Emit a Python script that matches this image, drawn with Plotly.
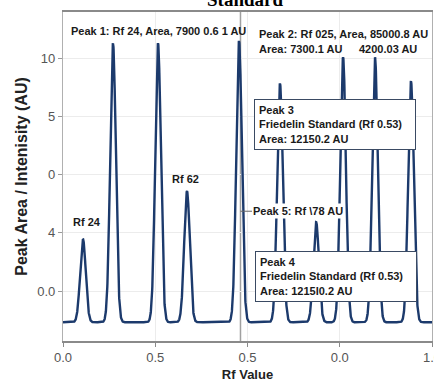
import numpy as np
import plotly.graph_objects as go

# ---- data ----
peak_rf = [0.054, 0.1355, 0.2575, 0.336, 0.477, 0.588, 0.686, 0.759, 0.8455, 0.943]
peak_height = [1.43, 4.79, 4.79, 2.25, 4.83, 4.10, 1.72, 4.55, 4.55, 4.14]
baseline = -0.537
peak_width = 0.0076

x_tickvals = [0.0, 0.25, 0.5, 0.75, 1.0]
x_ticktext = ["0.0", "0.5", "0.5", "0.0", "1.0"]
y_tickvals = [0, 1, 2, 3, 4]
y_ticktext = ["0.0", "4", "0", "5", "10"]
marker_rf = 0.481

# ---- curve from peaks ----
x = np.linspace(0, 1, 3000)
y = np.full_like(x, baseline)
for c, h in zip(peak_rf, peak_height):
    y = y + h * np.exp(-0.5 * ((x - c) / peak_width) ** 2)

fig = go.Figure()
fig.add_trace(go.Scatter(x=x, y=y, mode="lines",
                         line=dict(color="#1c3a6c", width=2.4),
                         hoverinfo="skip", showlegend=False))

fig.add_shape(type="line", xref="x", yref="paper", x0=marker_rf, x1=marker_rf,
              y0=0, y1=1, line=dict(color="#a0a0a0", width=1.5), layer="below")

bold = dict(family="Liberation Sans, Arial", size=11, color="#1a1a1a")

ann = []
ann.append(dict(x=0.015, y=4.46, xref="x", yref="y", xanchor="left", yanchor="middle",
                text="<b>Peak 1: Rf 24, Area, 7900 0.6 1 AU</b>", showarrow=False, font=bold))
ann.append(dict(x=0.526, y=4.41, xref="x", yref="y", xanchor="left", yanchor="middle",
                text="<b>Peak 2: Rf 025, Area, 85000.8 AU</b>", showarrow=False, font=bold))
ann.append(dict(x=0.526, y=4.15, xref="x", yref="y", xanchor="left", yanchor="middle",
                text="<b>Area: 7300.1 AU</b>", showarrow=False, font=bold))
ann.append(dict(x=0.796, y=4.15, xref="x", yref="y", xanchor="left", yanchor="middle",
                text="<b>4200.03 AU</b>", showarrow=False, font=bold))
ann.append(dict(x=0.064, y=1.18, xref="x", yref="y", xanchor="center", yanchor="middle",
                text="<b>Rf 24</b>", showarrow=False, font=bold))
ann.append(dict(x=0.333, y=1.93, xref="x", yref="y", xanchor="center", yanchor="middle",
                text="<b>Rf 62</b>", showarrow=False, font=bold))
ann.append(dict(x=0.518, y=2.86, xref="x", yref="y", xanchor="left", yanchor="middle",
                text="<b>Peak 3</b><br><b>Friedelin Standard (Rf 0.53)</b>   <br><b>Area: 12150.2 AU</b>",
                align="left", showarrow=False, font=bold, bgcolor="white",
                bordercolor="#3a4a63", borderwidth=1, borderpad=4))
ann.append(dict(x=0.521, y=0.25, xref="x", yref="y", xanchor="left", yanchor="middle",
                text="<b>Peak 4</b><br><b>Friedelin Standard (Rf 0.53)</b>   <br><b>Area: 1215l0.2 AU</b>",
                align="left", showarrow=False, font=bold, bgcolor="white",
                bordercolor="#3a4a63", borderwidth=1, borderpad=4))
ann.append(dict(x=marker_rf, y=1.37, xref="x", yref="y", ax=58, ay=0,
                text="<b>Peak 5: Rf \\78 AU</b>", showarrow=True, arrowhead=0,
                arrowwidth=1, arrowcolor="#666666", font=bold, bgcolor="white"))
ann.append(dict(x=0.494, y=1.0, xref="paper", yref="paper", xanchor="center", yanchor="middle",
                yshift=13, text="<b>Standard</b>", showarrow=False,
                font=dict(family="Liberation Serif, Times New Roman", size=19, color="#000")))

fig.update_layout(
    width=434, height=383,
    margin=dict(l=63, r=2, t=12, b=42, autoexpand=False),
    paper_bgcolor="white", plot_bgcolor="white",
    annotations=ann,
    font=dict(family="Liberation Sans, Arial", color="#444"),
    xaxis=dict(range=[0, 1], tickvals=x_tickvals, ticktext=x_ticktext, automargin=False,
               ticklabeloverflow="allow",
               showgrid=True, gridcolor="#ececec", gridwidth=1,
               showline=True, linecolor="#8a8a8a", linewidth=1.5, mirror=True,
               ticks="outside", ticklen=4, tickcolor="#8a8a8a",
               tickfont=dict(size=13, color="#555"), zeroline=False,
               title=dict(text="<b>Rf Value</b>", font=dict(size=13, color="#222"), standoff=6)),
    yaxis=dict(range=[-0.858, 4.79], tickvals=y_tickvals, ticktext=y_ticktext, automargin=False,
               showgrid=True, gridcolor="#ececec", gridwidth=1,
               showline=True, linecolor="#b0b0b0", linewidth=1.2, mirror=True,
               ticks="outside", ticklen=4, tickcolor="#9a9a9a",
               tickfont=dict(size=13, color="#555"), zeroline=False,
               title=dict(text="<b>Peak Area / Intenisity (AU)</b>", font=dict(size=16, color="#222"), standoff=5)),
)

fig.write_html("out.html", config={"displayModeBar": False},
               post_script="document.body.style.margin='0';document.body.style.overflow='hidden';")
